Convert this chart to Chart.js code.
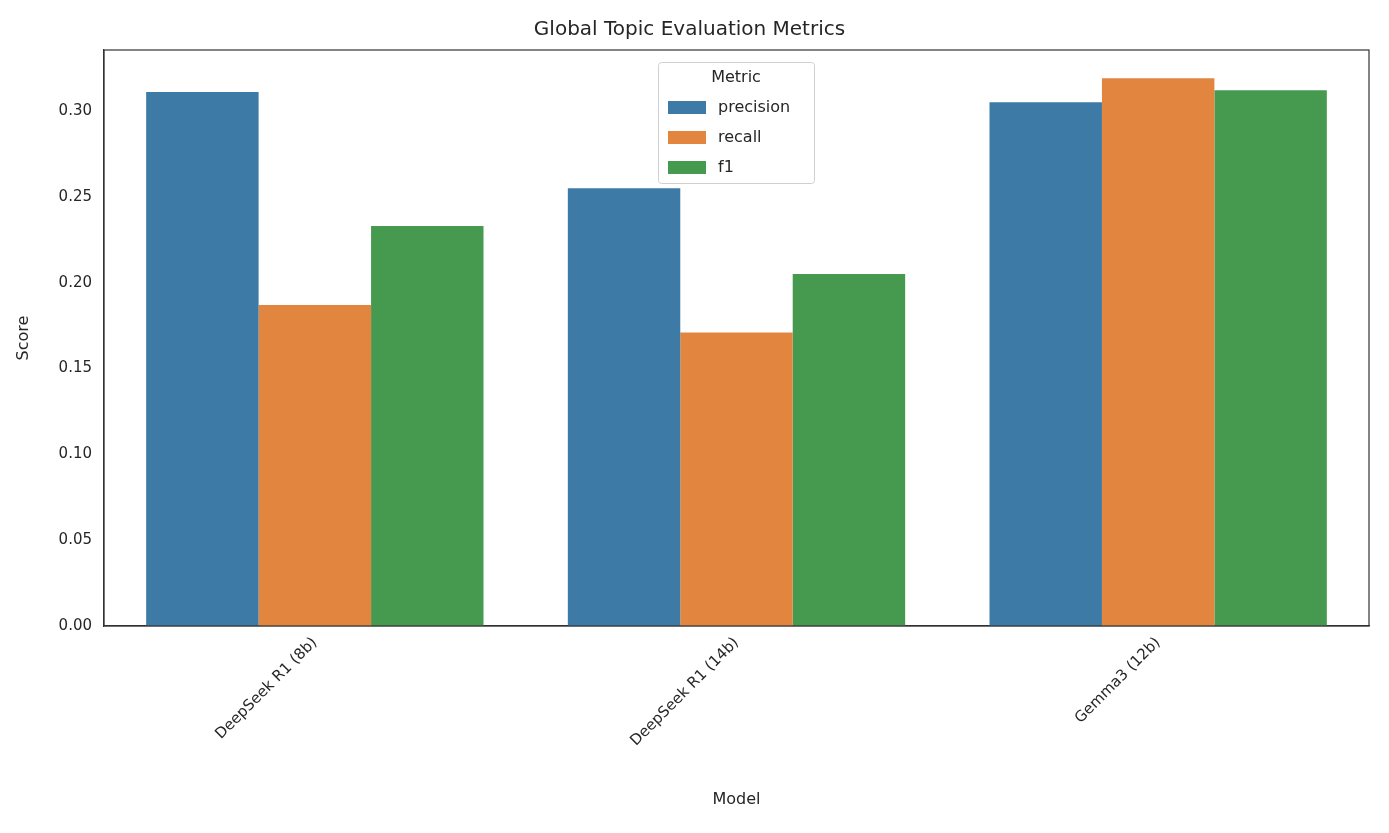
<!DOCTYPE html>
<html><head><meta charset="utf-8">
<script src="https://cdn.jsdelivr.net/npm/chart.js@4"></script>
<style>html,body{margin:0;background:#fff}#w{width:1389px;height:833px}</style>
</head><body><div id="w"><canvas id="c"></canvas></div>
<script>
const categories = ["DeepSeek R1 (8b)", "DeepSeek R1 (14b)", "Gemma3 (12b)"];
const precision = [0.311, 0.255, 0.305];
const recall = [0.187, 0.171, 0.319];
const f1 = [0.233, 0.205, 0.312];
const metricNames = ["precision", "recall", "f1"];
const colors = ["#3e7aa6", "#e1853f", "#459a4f"];
const FONT = "'DejaVu Sans', sans-serif";
const legendPlugin = {
  id: 'inLegend',
  afterDraw(chart) {
    const ctx = chart.ctx;
    const x = 658, y = 62, w = 156, h = 121;
    ctx.save();
    ctx.fillStyle = 'rgba(255,255,255,0.8)';
    ctx.strokeStyle = '#d0d0d0';
    ctx.lineWidth = 1;
    ctx.beginPath(); ctx.roundRect(x + 0.5, y + 0.5, w, h, 3); ctx.fill(); ctx.stroke();
    ctx.fillStyle = '#262626';
    ctx.font = "16px " + FONT;
    ctx.textAlign = 'center'; ctx.textBaseline = 'middle';
    ctx.fillText('Metric', x + w / 2, y + 16);
    ctx.textAlign = 'left';
    chart.data.datasets.forEach((ds, i) => {
      const yy = y + 45 + i * 30;
      ctx.fillStyle = ds.backgroundColor;
      ctx.fillRect(x + 10, yy - 6, 38, 13);
      ctx.fillStyle = '#262626';
      ctx.fillText(ds.label, x + 60, yy + 1);
    });
    ctx.restore();
  }
};
new Chart(document.getElementById('c'), {
  type: 'bar',
  data: {
    labels: categories,
    datasets: [precision, recall, f1].map((d, i) => ({
      label: metricNames[i], data: d, backgroundColor: colors[i],
      categoryPercentage: 0.8, barPercentage: 1.0
    }))
  },
  options: {
    responsive: true, maintainAspectRatio: false, animation: false,
    layout: { padding: { top: 8, right: 20, left: 10, bottom: 20 } },
    plugins: {
      legend: { display: false },
      tooltip: { enabled: false },
      title: { display: true, text: 'Global Topic Evaluation Metrics', color: '#262626',
        font: { family: FONT, size: 20, weight: 'normal' }, padding: { top: 10, bottom: 8 } }
    },
    scales: {
      x: {
        afterFit: ax => { ax.height = 187; },
        grid: { display: false, drawTicks: true, tickLength: 6, tickColor: '#333' },
        border: { color: '#333', width: 1.2 },
        ticks: { color: '#262626', font: { family: FONT, size: 15 }, maxRotation: 45, minRotation: 45, padding: 2 },
        title: { display: true, text: 'Model', color: '#262626', font: { family: FONT, size: 16 }, padding: { top: 8 } }
      },
      y: {
        afterFit: ax => { ax.width = 94; },
        min: 0, max: 0.3355,
        grid: { display: false, drawTicks: true, tickLength: 6, tickColor: '#333' },
        border: { color: '#333', width: 1.2 },
        afterBuildTicks: ax => { ax.ticks = [0,0.05,0.1,0.15,0.2,0.25,0.3].map(v => ({ value: v })); },
        ticks: { color: '#262626', font: { family: FONT, size: 15 }, callback: v => v.toFixed(2), padding: 6 },
        title: { display: true, text: 'Score', color: '#262626', font: { family: FONT, size: 16 } }
      }
    }
  },
  plugins: [legendPlugin, {
    id: 'frame',
    afterDraw(chart) {
      const a = chart.chartArea, ctx = chart.ctx;
      ctx.save(); ctx.strokeStyle = '#333'; ctx.lineWidth = 1.2;
      ctx.strokeRect(a.left, a.top, a.right - a.left, a.bottom - a.top); ctx.restore();
    }
  }]
});
</script></body></html>
